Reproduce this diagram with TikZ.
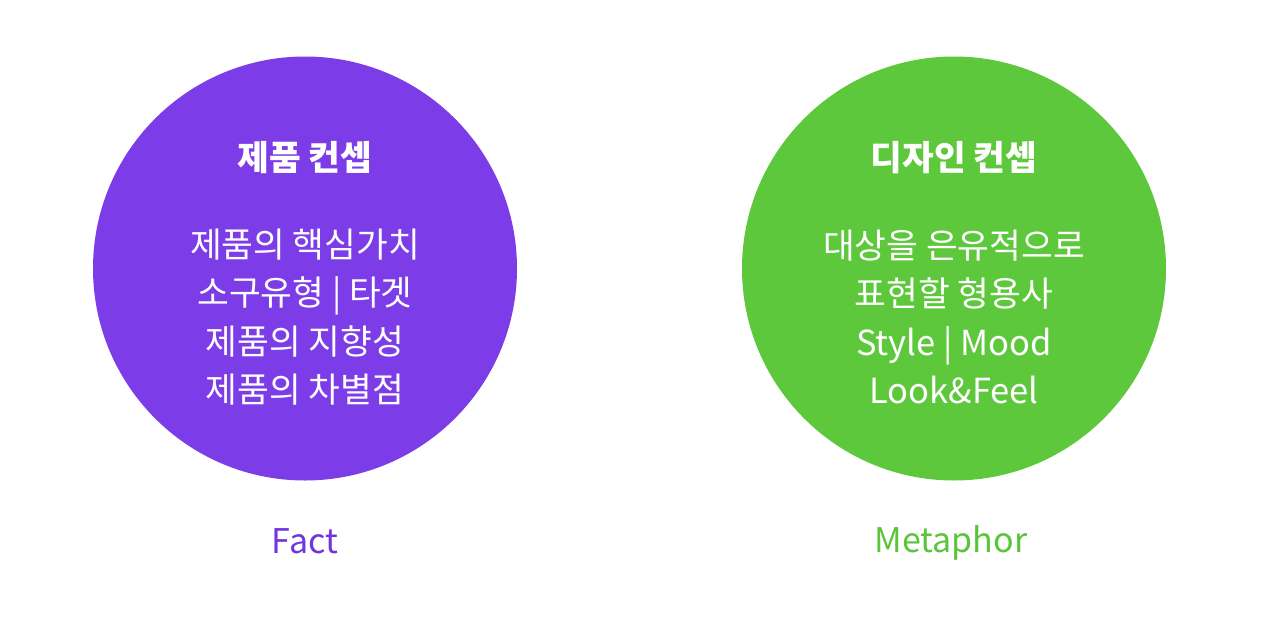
\documentclass[tikz,border=0pt]{standalone}
\usepackage{fontspec}
\setmainfont{Noto Sans CJK KR}
\definecolor{factPurple}{RGB}{124,61,232}
\definecolor{factText}{RGB}{114,52,224}
\definecolor{metaGreen}{RGB}{94,200,61}
\definecolor{metaText}{RGB}{90,196,58}

\tikzset{
  conceptCircle/.style={circle, inner sep=0pt, minimum size=424pt, draw=none},
  conceptTitle/.style={text=white, font=\fontsize{34.5}{40}\selectfont\bfseries},
  conceptText/.style={text=white, align=center, font=\fontsize{34.5}{48.5}\selectfont},
  conceptCaption/.style={font=\fontsize{34}{40}\selectfont}
}

\begin{document}
\begin{tikzpicture}[x=1pt, y=-1pt]

\useasboundingbox (0,0) rectangle (1280,635);

\node (factCircle) [conceptCircle, fill=factPurple] at (305,268.5) {};
\node (factTitle) [conceptTitle] at (305,158) {제품 컨셉};
\node (factText) [conceptText] at (305,317) {제품의 핵심가치\\소구유형 | 타겟\\제품의 지향성\\제품의 차별점};
\node (factCaption) [conceptCaption, text=factText] at (305,541) {Fact};

\node (metaCircle) [conceptCircle, fill=metaGreen] at (954,268.5) {};
\node (metaTitle) [conceptTitle] at (954,158) {디자인 컨셉};
\node (metaText) [conceptText] at (954,317) {대상을 은유적으로\\표현할 형용사\\Style | Mood\\Look\&Feel};
\node (metaCaption) [conceptCaption, text=metaText] at (951,543) {Metaphor};

\end{tikzpicture}
\end{document}
